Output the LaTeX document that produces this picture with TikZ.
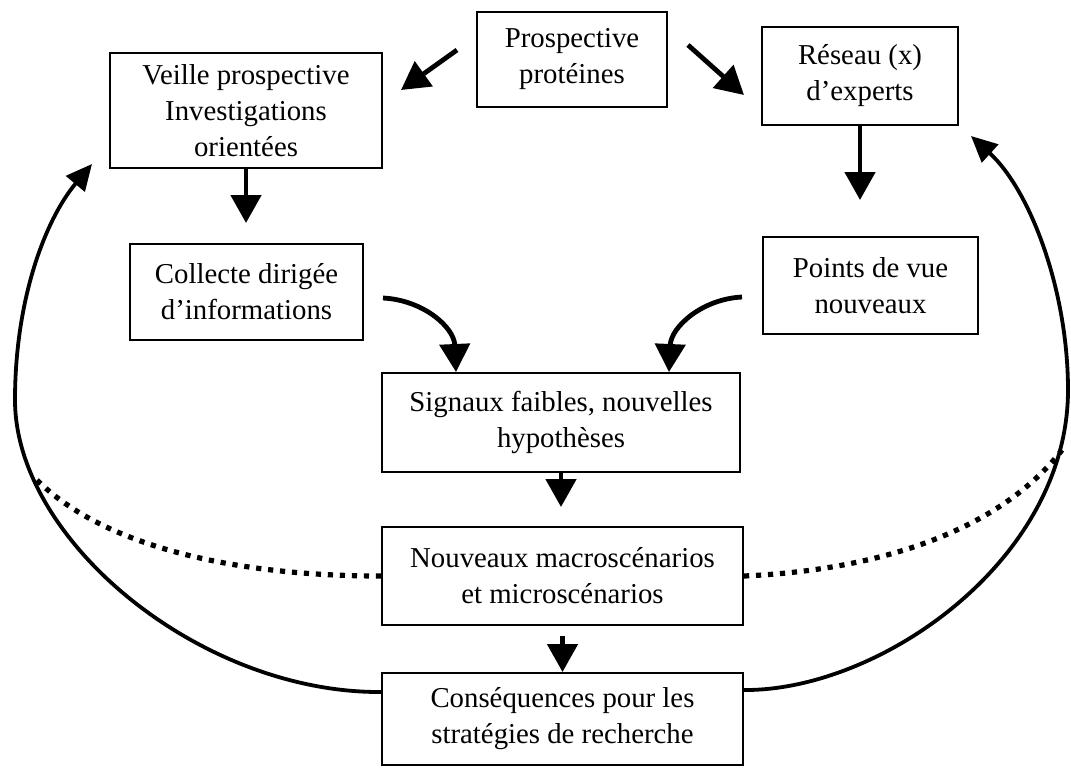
\documentclass[tikz,border=0pt]{standalone}
\usepackage{fontspec}
\setmainfont{Liberation Serif}
\usetikzlibrary{positioning,calc,arrows.meta}

\begin{document}
\begin{tikzpicture}[x=0.5pt,y=0.5pt,
    stagebox/.style={draw, line width=1pt, align=center, inner sep=0pt,
        font=\fontsize{14.4}{18}\selectfont},
    flowarrow/.style={line width=2.4pt, -{Triangle[length=14pt,width=15pt]}},
    looparrow/.style={line width=1.9pt, -{Triangle[length=13pt,width=12pt]}},
    dotline/.style={line width=2.6pt, dash pattern=on 2.6pt off 3.4pt}]
  \useasboundingbox (0,0) rectangle (1071,-767);
  \node[stagebox, minimum width=95pt, minimum height=47.5pt] (prosp) at (572,-59.5)
    {Prospective\\protéines};
  \node[stagebox, minimum width=136pt, minimum height=57.5pt] (veille) at (246,-110.5)
    {Veille prospective\\Investigations\\orientées};
  \node[stagebox, minimum width=98pt, minimum height=49pt] (reseau) at (860,-76)
    {Réseau (x)\\d’experts};
  \node[stagebox, minimum width=116.5pt, minimum height=48pt] (collecte) at (246.5,-292)
    {Collecte dirigée\\d’informations};
  \node[stagebox, minimum width=107.5pt, minimum height=48.5pt] (points) at (870.5,-285.5)
    {Points de vue\\nouveaux};
  \node[stagebox, minimum width=179pt, minimum height=49.5pt] (signaux) at (561,-422.5)
    {Signaux faibles, nouvelles\\hypothèses};
  \node[stagebox, minimum width=180.5pt, minimum height=49pt] (nouveaux) at (562.5,-576)
    {Nouveaux macroscénarios\\et microscénarios};
  \node[stagebox, minimum width=180.5pt, minimum height=46pt] (cons) at (562.5,-719)
    {Conséquences pour les\\stratégies de recherche};
  \draw[flowarrow] ($(prosp.west)+(-19,9.5)$) -- ($(veille.east)+(18,20.5)$);
  \draw[flowarrow] ($(prosp.east)+(20,14.5)$) -- ($(reseau.west)+(-17,-19)$);
  \draw[flowarrow, shorten >=10pt] (veille.south) -- (veille.south |- collecte.north);
  \draw[flowarrow, shorten >=18pt] (reseau.south) -- (reseau.south |- points.north);
  \draw[flowarrow] ($(collecte.east)+(19,-6)$) .. controls +(40,-2) and +(-2,45)
    .. ($(signaux.north west)+(75,0)$);
  \draw[flowarrow] ($(points.west)+(-20,-11.5)$) .. controls +(-40,-2) and +(2,45)
    .. ($(signaux.north east)+(-72,0)$);
  \draw[flowarrow, shorten >=9.5pt] (signaux.south) -- (signaux.south |- nouveaux.north);
  \draw[flowarrow, shorten <=5pt] (nouveaux.south) -- (cons.north);
  \draw[looparrow] ($(cons.north west)+(0,-20)$) .. controls (200,-693) and (15,-540)
    .. (15,-400) .. controls (15,-300) and (45,-220) .. ($(veille.south west)+(-17,5)$);
  \draw[looparrow] ($(cons.north east)+(0,-18)$) .. controls (880,-691) and (1068,-560)
    .. (1068,-390) .. controls (1068,-290) and (1030,-190) .. ($(reseau.south east)+(12,-10)$);
  \coordinate (dotL) at (35,-478);
  \coordinate (dotR) at (1062,-450);
  \draw[dotline] (nouveaux.west) .. controls +(-150,0) and +(65,-67) .. (dotL);
  \draw[dotline] (nouveaux.east) .. controls +(137,6) and +(-62,-80) .. (dotR);
\end{tikzpicture}
\end{document}
